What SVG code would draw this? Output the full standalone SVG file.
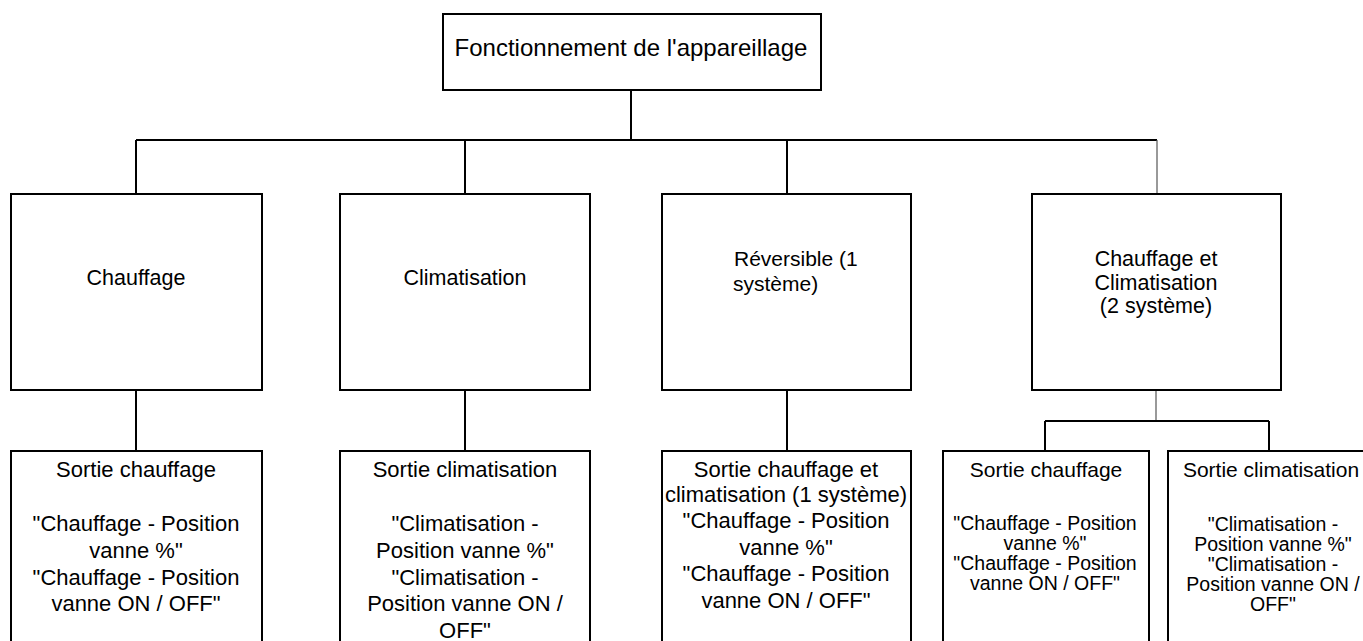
<svg xmlns="http://www.w3.org/2000/svg" width="1363" height="641" viewBox="0 0 1363 641">
<style>
.box{fill:#fff;stroke:#000;stroke-width:2}
.ln{fill:none;stroke:#000;stroke-width:2}
.lg{fill:none;stroke:#555;stroke-width:1.2}
text{font-family:"Liberation Sans",Arial,Helvetica,sans-serif;fill:#000;text-anchor:middle}
.t0{font-size:24px}
.t1{font-size:21.5px}
.t2{font-size:22px}
.t3{font-size:21px}
.t4{font-size:19.5px}
</style>
<rect width="1363" height="641" fill="#fff"/>
<g id="connectors">
<path class="ln" d="M631 90V140M136 140H1157M136 140V194M465 140V194M787 140V194"/>
<path class="lg" d="M1157 140V194"/>
<path class="ln" d="M136 390V451M465 390V451M787 390V451"/>
<path class="lg" d="M1156 390V421"/>
<path class="ln" d="M1045 421H1269M1045 421V451M1269 421V451"/>
</g>
<g id="root">
<rect class="box" x="443" y="14" width="378" height="76"/>
<text class="t0" x="631" y="56">Fonctionnement de l'appareillage</text>
</g>
<g id="chauffage">
<rect class="box" x="11" y="194" width="251" height="196"/>
<text class="t1" x="136" y="285">Chauffage</text>
</g>
<g id="climatisation">
<rect class="box" x="340" y="194" width="250" height="196"/>
<text class="t1" x="465" y="285">Climatisation</text>
</g>
<g id="reversible">
<rect class="box" x="662" y="194" width="249" height="196"/>
<text class="t3" x="734" y="266" style="text-anchor:start">Réversible (1</text>
<text class="t3" x="733" y="291" style="text-anchor:start">système)</text>
</g>
<g id="chauffage-climatisation">
<rect class="box" x="1032" y="194" width="249" height="196"/>
<text class="t1" x="1156" y="266">Chauffage et</text>
<text class="t1" x="1156" y="289.5">Climatisation</text>
<text class="t1" x="1156" y="313">(2 système)</text>
</g>
<g id="sortie-chauffage-1">
<rect class="box" x="11" y="451" width="251" height="200"/>
<text class="t2" x="136" y="477">Sortie chauffage</text>
<text class="t2" x="136" y="531">"Chauffage - Position</text>
<text class="t2" x="136" y="558">vanne %"</text>
<text class="t2" x="136" y="585">"Chauffage - Position</text>
<text class="t2" x="136" y="611">vanne ON / OFF"</text>
</g>
<g id="sortie-climatisation-1">
<rect class="box" x="340" y="451" width="250" height="200"/>
<text class="t2" x="465" y="477">Sortie climatisation</text>
<text class="t2" x="465" y="531">"Climatisation -</text>
<text class="t2" x="465" y="558">Position vanne %"</text>
<text class="t2" x="465" y="585">"Climatisation -</text>
<text class="t2" x="465" y="611">Position vanne ON /</text>
<text class="t2" x="465" y="638">OFF"</text>
</g>
<g id="sortie-reversible">
<rect class="box" x="662" y="451" width="249" height="200"/>
<text class="t2" x="786" y="477">Sortie chauffage et</text>
<text class="t2" x="786" y="502">climatisation (1 système)</text>
<text class="t2" x="786" y="528">"Chauffage - Position</text>
<text class="t2" x="786" y="555">vanne %"</text>
<text class="t2" x="786" y="581">"Chauffage - Position</text>
<text class="t2" x="786" y="608">vanne ON / OFF"</text>
</g>
<g id="sortie-chauffage-2">
<rect class="box" x="943" y="451" width="206" height="200"/>
<text class="t3" x="1046" y="477">Sortie chauffage</text>
<text class="t4" x="1045" y="530">"Chauffage - Position</text>
<text class="t4" x="1045" y="550">vanne %"</text>
<text class="t4" x="1045" y="570">"Chauffage - Position</text>
<text class="t4" x="1045" y="590">vanne ON / OFF"</text>
</g>
<g id="sortie-climatisation-2">
<rect class="box" x="1168" y="451" width="208" height="200"/>
<text class="t3" x="1271" y="477">Sortie climatisation</text>
<text class="t4" x="1273" y="531">"Climatisation -</text>
<text class="t4" x="1273" y="551">Position vanne %"</text>
<text class="t4" x="1273" y="571">"Climatisation -</text>
<text class="t4" x="1273" y="591">Position vanne ON /</text>
<text class="t4" x="1273" y="611">OFF"</text>
</g>
</svg>
